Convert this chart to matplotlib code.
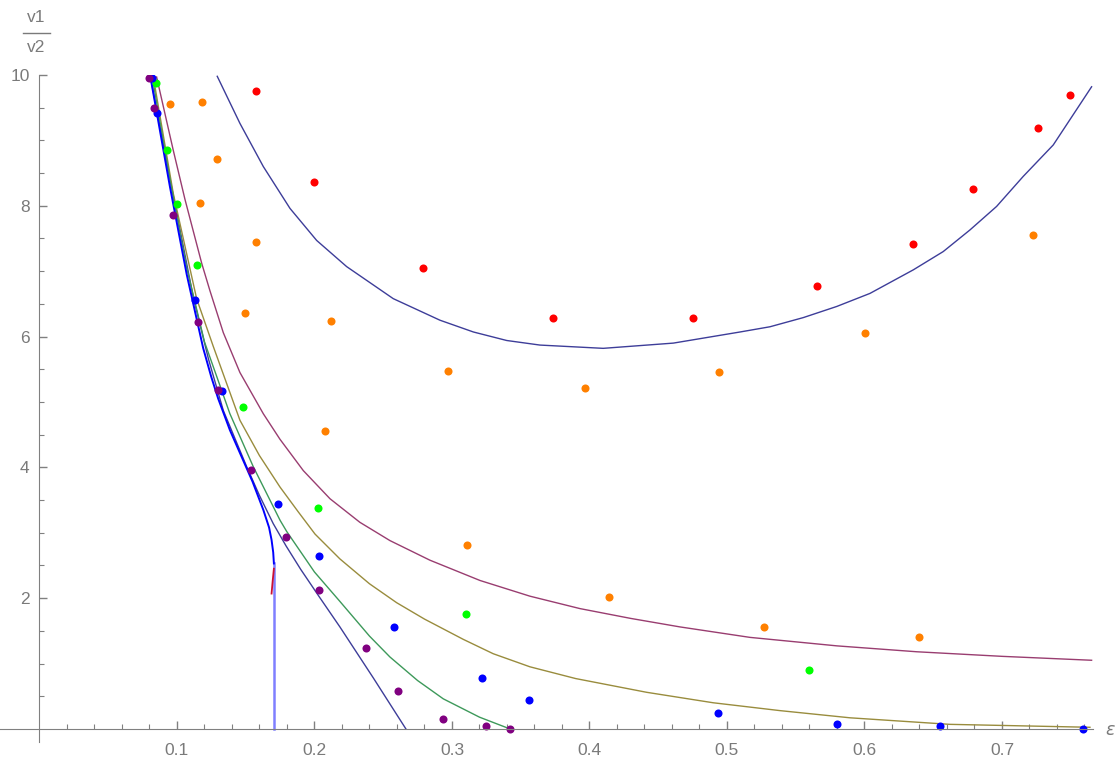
import numpy as np
import matplotlib.pyplot as plt
from matplotlib.lines import Line2D
from matplotlib.ticker import FixedLocator

# measured points
red_x = [0.1575, 0.1996, 0.2788, 0.3737, 0.4755, 0.5652, 0.6355, 0.6791, 0.7264, 0.7495]
red_y = [9.76, 8.36, 7.05, 6.28, 6.28, 6.78, 7.42, 8.25, 9.19, 9.70]

orange_x = [0.0949, 0.1184, 0.1293, 0.1167, 0.1575, 0.1495, 0.2118, 0.2076, 0.2973,
            0.3967, 0.4944, 0.6004, 0.7228, 0.3111, 0.4144, 0.5271, 0.6399]
orange_y = [9.56, 9.59, 8.71, 8.04, 7.45, 6.36, 6.24, 4.56, 5.48,
            5.22, 5.46, 6.05, 7.56, 2.82, 2.01, 1.56, 1.41]

green_x = [0.0847, 0.0925, 0.0998, 0.1143, 0.1482, 0.2023, 0.3100, 0.5594]
green_y = [9.88, 8.85, 8.02, 7.10, 4.93, 3.38, 1.75, 0.90]

blue_x = [0.0816, 0.0852, 0.1131, 0.1325, 0.1737, 0.2035, 0.2578, 0.3220, 0.3560,
          0.4932, 0.5802, 0.6547, 0.7591]
blue_y = [9.95, 9.42, 6.56, 5.17, 3.44, 2.65, 1.56, 0.78, 0.44,
          0.24, 0.077, 0.046, 0.005]

purple_x = [0.0796, 0.0833, 0.0969, 0.1150, 0.1300, 0.1536, 0.1793, 0.2035, 0.2375,
            0.2610, 0.2932, 0.3247, 0.3422]
purple_y = [9.96, 9.50, 7.86, 6.22, 5.18, 3.96, 2.93, 2.12, 1.24,
            0.58, 0.15, 0.05, 0.005]

# curves
u_x = [0.1293, 0.1458, 0.1628, 0.1822, 0.2016, 0.2234, 0.2573, 0.2913, 0.3156,
       0.3398, 0.3640, 0.4100, 0.4610, 0.5095, 0.5313, 0.5555, 0.5798, 0.6040,
       0.6355, 0.6573, 0.6767, 0.6961, 0.7155, 0.7373, 0.7652]
u_y = [9.98, 9.26, 8.60, 7.96, 7.47, 7.07, 6.58, 6.25, 6.07,
       5.94, 5.87, 5.82, 5.90, 6.07, 6.15, 6.29, 6.46, 6.66,
       7.02, 7.30, 7.63, 7.99, 8.45, 8.93, 9.82]

mag_x = [0.0852, 0.0973, 0.1058, 0.1180, 0.1240, 0.1337, 0.1458, 0.1628, 0.1749,
         0.1919, 0.2113, 0.2330, 0.2549, 0.2840, 0.3204, 0.3567, 0.3931, 0.4300,
         0.4658, 0.5167, 0.5800, 0.6380, 0.7000, 0.7652]
mag_y = [9.97, 8.85, 8.10, 7.12, 6.70, 6.06, 5.45, 4.82, 4.43,
         3.95, 3.52, 3.16, 2.88, 2.58, 2.27, 2.03, 1.84, 1.69,
         1.56, 1.40, 1.27, 1.18, 1.11, 1.05]

olive_x = [0.0828, 0.0973, 0.1143, 0.1264, 0.1458, 0.1600, 0.1749, 0.1882, 0.2004,
           0.2185, 0.2400, 0.2598, 0.2800, 0.3082, 0.3300, 0.3567, 0.3900, 0.4416,
           0.4900, 0.5385, 0.5895, 0.6620, 0.7640]
olive_y = [9.97, 8.19, 6.58, 5.85, 4.72, 4.18, 3.70, 3.32, 2.98,
           2.60, 2.22, 1.93, 1.68, 1.37, 1.15, 0.95, 0.77, 0.56,
           0.40, 0.28, 0.17, 0.07, 0.025]

grn_x = [0.0820, 0.0950, 0.1071, 0.1200, 0.1385, 0.1555, 0.1750, 0.1798, 0.2000,
         0.2185, 0.2400, 0.2549, 0.2750, 0.2937, 0.3200, 0.3422]
grn_y = [9.97, 8.40, 7.05, 5.92, 4.82, 4.01, 3.19, 3.02, 2.40,
         1.95, 1.42, 1.10, 0.74, 0.46, 0.18, 0.0]

lin_x = [0.0807, 0.0960, 0.1119, 0.1230, 0.1337, 0.1507, 0.1600, 0.1700, 0.1793,
         0.1900, 0.2035, 0.2185, 0.2428, 0.2665]
lin_y = [9.97, 8.30, 6.60, 5.65, 4.87, 4.01, 3.57, 3.14, 2.80,
         2.44, 2.02, 1.56, 0.78, 0.0]

thick_x = [0.0807, 0.0949, 0.1071, 0.1191, 0.1250, 0.1300, 0.1385, 0.1458, 0.1550,
           0.1628, 0.1670, 0.1688, 0.1700, 0.1705]
thick_y = [9.97, 8.29, 6.95, 5.82, 5.38, 5.05, 4.57, 4.22, 3.78,
           3.35, 3.08, 2.89, 2.70, 2.53]
vert_x = [0.1705, 0.1705]
vert_y = [2.53, 0.0]

redseg_x = [0.1705, 0.1697, 0.1688]
redseg_y = [2.45, 2.28, 2.07]

W, H = 1119, 758
fig = plt.figure(figsize=(W / 100, H / 100), dpi=100)
ax = fig.add_axes([0, (H - 742) / H, 1092.7 / W, (742 - 75) / H])
ax.set_xlim(-0.0287, 0.766)
ax.set_ylim(-0.2, 10)

c1 = '#3d3d99'
c2 = '#993d70'
c3 = '#998c3d'
c4 = '#3d995a'

ax.plot(u_x, u_y, color=c1, lw=1.0)
ax.plot(lin_x, lin_y, color=c1, lw=1.0)
ax.plot(mag_x, mag_y, color=c2, lw=1.0)
ax.plot(olive_x, olive_y, color=c3, lw=1.0)
ax.plot(grn_x, grn_y, color=c4, lw=1.0)
ax.plot(thick_x, thick_y, color='#0000ff', lw=1.4)
ax.plot(vert_x, vert_y, color='#0000ff', lw=1.8, alpha=0.5)
ax.plot(redseg_x, redseg_y, color='#cc1133', lw=1.3)

ms = 5.8
ax.plot(red_x, red_y, 'o', color='#ff0000', ms=ms, mew=0)
ax.plot(orange_x, orange_y, 'o', color='#ff8000', ms=ms, mew=0)
ax.plot(green_x, green_y, 'o', color='#00ff00', ms=ms, mew=0)
ax.plot(blue_x, blue_y, 'o', color='#0000ff', ms=ms, mew=0)
ax.plot(purple_x, purple_y, 'o', color='#800080', ms=ms, mew=0)

axis_col = '#808080'
for s in ['top', 'right']:
    ax.spines[s].set_visible(False)
ax.spines['left'].set_position(('data', 0))
ax.spines['bottom'].set_position(('data', 0))
ax.spines['left'].set_color(axis_col)
ax.spines['bottom'].set_color(axis_col)

ax.xaxis.set_major_locator(FixedLocator([0.1, 0.2, 0.3, 0.4, 0.5, 0.6, 0.7]))
ax.xaxis.set_minor_locator(FixedLocator([i * 0.02 for i in range(1, 39) if i % 5 != 0]))
ax.yaxis.set_major_locator(FixedLocator([2, 4, 6, 8, 10]))
ax.yaxis.set_minor_locator(FixedLocator([i * 0.5 for i in range(1, 20) if i % 4 != 0]))
ax.set_xticklabels(['0.1', '0.2', '0.3', '0.4', '0.5', '0.6', '0.7'])
ax.set_yticklabels(['2', '4', '6', '8', '10'])
ax.tick_params(which='major', direction='in', length=6, width=1, color=axis_col,
               labelcolor='#7a7a7a', labelsize=12.5)
ax.tick_params(axis='x', which='major', pad=10)
ax.tick_params(axis='y', which='major', pad=7)
ax.tick_params(which='minor', direction='in', length=3.5, width=0.8, color=axis_col)
for lab in ax.get_xticklabels() + ax.get_yticklabels():
    lab.set_fontfamily('Liberation Sans')

# axis labels
fig.text(1110 / W, 1 - 730 / H, 'ε', color='#7a7a7a', fontsize=12.5, style='italic',
         ha='center', va='center')
fig.text(36 / W, 1 - 17 / H, 'v1', color='#7a7a7a', fontsize=12.5,
         ha='center', va='center', family='Liberation Sans')
fig.text(36 / W, 1 - 48 / H, 'v2', color='#7a7a7a', fontsize=12.5,
         ha='center', va='center', family='Liberation Sans')
fig.add_artist(Line2D([23 / W, 50 / W], [1 - 33 / H, 1 - 33 / H],
                      transform=fig.transFigure, color='#7a7a7a', lw=1))

fig.savefig('out.png', dpi=100)
